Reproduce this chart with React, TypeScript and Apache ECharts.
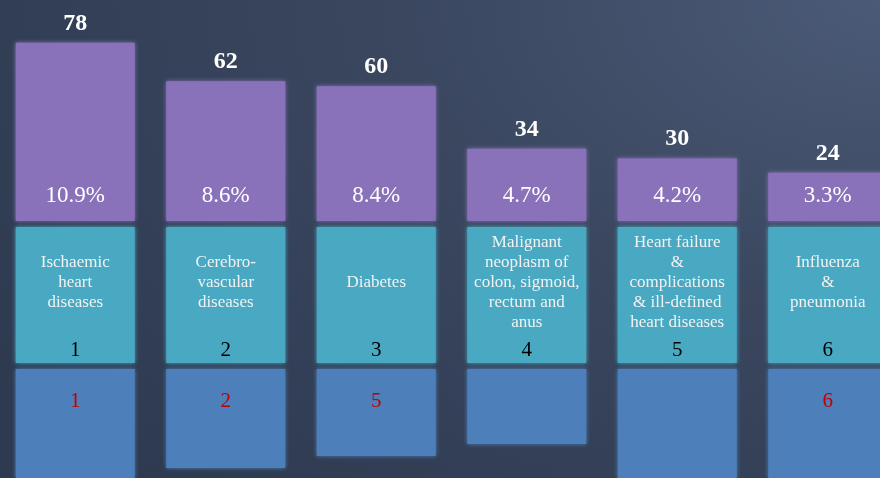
import React, { useEffect, useRef } from "react";
import * as echarts from "echarts";

const categories = [
  "Ischaemic\nheart\ndiseases",
  "Cerebro-\nvascular\ndiseases",
  "Diabetes",
  "Malignant\nneoplasm of\ncolon, sigmoid,\nrectum and\nanus",
  "Heart failure\n&\ncomplications\n& ill-defined\nheart diseases",
  "Influenza\n&\npneumonia",
];
const deaths = [78, 62, 60, 34, 30, 24];
const percents = ["10.9%", "8.6%", "8.4%", "4.7%", "4.2%", "3.3%"];
const ranks = ["1", "2", "3", "4", "5", "6"];
const rowFill = [1, 1, 1, 1, 1, 1];
const otherRanks = ["1", "2", "5", "", "", "6"];
const otherValues = [128, 99, 87, 75, 120, 116];

const SERIF = "'Liberation Serif', 'Times New Roman', serif";

export default function App() {
  const ref = useRef<HTMLDivElement>(null);
  useEffect(() => {
    if (!ref.current) return;
    const chart = echarts.init(ref.current, undefined, { renderer: "svg" });
    const grids = [
      { left: 0, right: 0, top: 38, height: 183 },
      { left: 0, right: 0, top: 227, height: 136 },
      { left: 0, right: 0, top: 369, height: 109 },
    ];
    const xAxis = grids.map((_, i) => ({
      type: "category" as const,
      gridIndex: i,
      data: categories,
      show: false,
    }));
    const yAxis = [
      { type: "value" as const, gridIndex: 0, min: 4, max: 80, show: false },
      { type: "value" as const, gridIndex: 1, min: 0, max: 1, show: false },
      { type: "value" as const, gridIndex: 2, min: 0, max: 109, inverse: true, show: false },
    ];
    const glow = (c: string) => ({ color: c, shadowBlur: 4, shadowColor: c });
    chart.setOption({
      animation: false,
      backgroundColor: "transparent",
      grid: grids,
      xAxis,
      yAxis,
      series: [
        {
          type: "bar",
          xAxisIndex: 0,
          yAxisIndex: 0,
          data: deaths,
          barWidth: 119,
          barGap: "-100%",
          itemStyle: glow("#8A72BA"),
          label: {
            show: true,
            position: "top",
            distance: 9,
            color: "#ffffff",
            fontFamily: SERIF,
            fontWeight: "bold",
            fontSize: 24,
          },
        },
        {
          type: "bar",
          xAxisIndex: 0,
          yAxisIndex: 0,
          data: deaths,
          barWidth: 119,
          barGap: "-100%",
          itemStyle: { color: "transparent" },
          label: {
            show: true,
            position: "insideBottom",
            distance: 15,
            color: "#ffffff",
            fontFamily: SERIF,
            fontSize: 23,
            formatter: (p: any) => percents[p.dataIndex],
          },
        },
        {
          type: "bar",
          xAxisIndex: 1,
          yAxisIndex: 1,
          data: rowFill,
          barWidth: 119,
          barGap: "-100%",
          itemStyle: glow("#49A9C3"),
          label: {
            show: true,
            position: "inside",
            offset: [0, -14],
            color: "#F2F2F2",
            fontFamily: SERIF,
            fontSize: 17,
            lineHeight: 20,
            formatter: (p: any) => categories[p.dataIndex],
          },
        },
        {
          type: "bar",
          xAxisIndex: 1,
          yAxisIndex: 1,
          data: rowFill,
          barWidth: 119,
          barGap: "-100%",
          itemStyle: { color: "transparent" },
          label: {
            show: true,
            position: "insideBottom",
            distance: 4,
            color: "#000000",
            fontFamily: SERIF,
            fontSize: 21,
            formatter: (p: any) => ranks[p.dataIndex],
          },
        },
        {
          type: "bar",
          xAxisIndex: 2,
          yAxisIndex: 2,
          data: otherValues,
          barWidth: 119,
          itemStyle: glow("#4D7FBA"),
          label: {
            show: true,
            position: "insideTop",
            distance: 20,
            color: "#C00000",
            fontFamily: SERIF,
            fontSize: 21,
            formatter: (p: any) => otherRanks[p.dataIndex],
          },
        },
      ],
    });
    return () => chart.dispose();
  }, []);
  return (
    <div
      style={{
        position: "fixed",
        left: 0,
        top: 0,
        width: 880,
        height: 478,
        overflow: "hidden",
        background:
          "radial-gradient(ellipse 120% 140% at 100% 0%, #4B5A77 0%, #3A475F 45%, #2D3A50 100%)",
      }}
    >
      <div ref={ref} style={{ width: 903, height: 478 }} />
    </div>
  );
}
